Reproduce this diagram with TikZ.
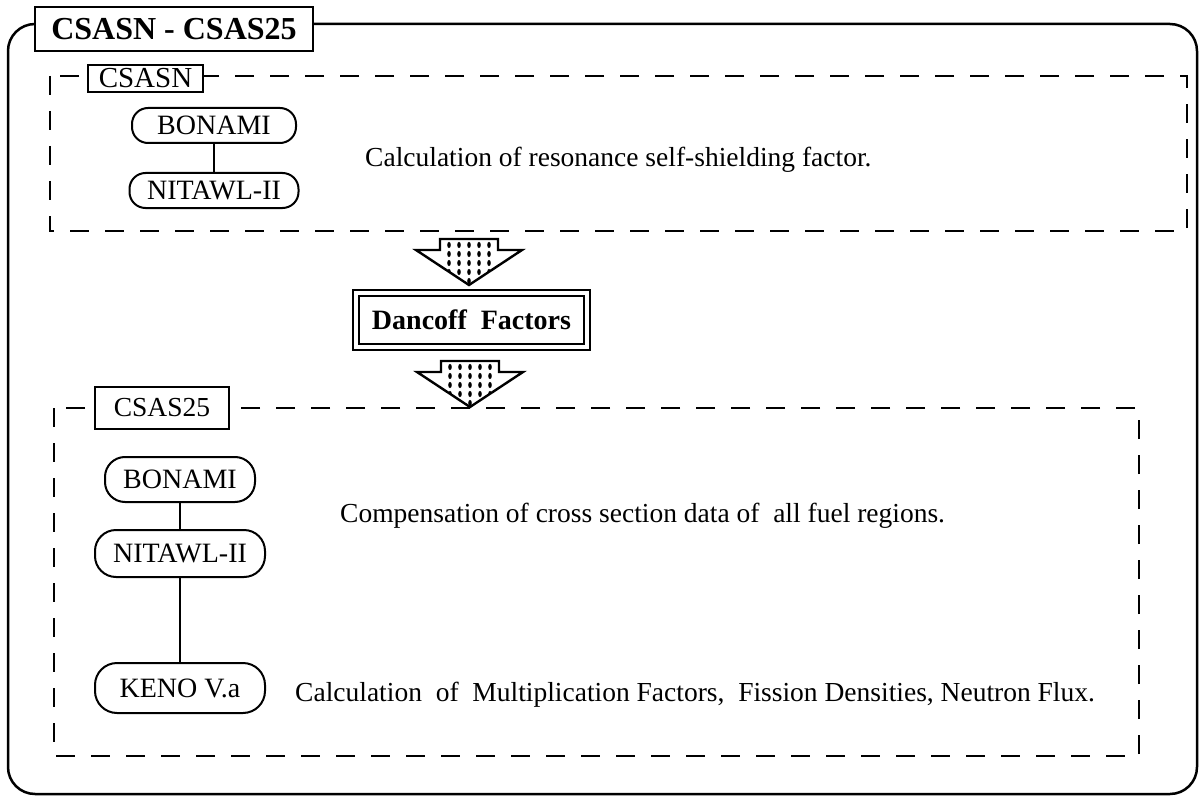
\documentclass[tikz,border=0pt]{standalone}
\usepackage{fontspec}
\setmainfont{Liberation Serif}
\begin{document}
\begin{tikzpicture}[x=1pt,y=-1pt,
  frame/.style={line width=2.5pt},
  group/.style={line width=2.6pt, dash pattern=on 19pt off 16pt},
  tag/.style={draw, fill=white, line width=1.8pt, inner sep=0pt, font=\fontsize{29}{31}\selectfont},
  prog/.style={draw, fill=white, line width=2pt, inner sep=0pt, font=\fontsize{28}{30}\selectfont},
  link/.style={line width=2pt},
  desc/.style={anchor=base west, inner sep=0pt, font=\fontsize{27.5}{30}\selectfont},
  blockdown/.pic={
    \begin{scope}
      \clip (-29,-46) -- (29,-46) -- (29,-35) -- (53,-35) -- (0,0) -- (-53,-35) -- (-29,-35) -- cycle;
      \foreach \i in {-2,...,2}
        \foreach \j in {0,...,4}
          \fill (\i*10, -40+\j*9) ellipse (1.8pt and 3.1pt);
    \end{scope}
    \draw[line width=2.4pt, line join=miter]
      (-29,-46) -- (29,-46) -- (29,-35) -- (53,-35) -- (0,0) -- (-53,-35) -- (-29,-35) -- cycle;
  }
]
\useasboundingbox (0,0) rectangle (1200,797);

% outer frame with its title
\draw[frame, rounded corners=27pt] (8,24) rectangle (1197,794);
\node[draw, fill=white, line width=2.5pt, minimum width=278pt, minimum height=44pt, inner sep=0pt,
      font=\bfseries\fontsize{32}{34}\selectfont] (title) at (174,29) {CSASN - CSAS25};

% CSASN group
\draw[group] (50,76) rectangle (1187,231);
\node[tag, minimum width=115pt, minimum height=27pt] (tagA) at (145.5,78.5) {CSASN};
\node[prog, rounded corners=16pt, minimum width=164pt, minimum height=35pt] (bonA) at (214,125.5) {BONAMI};
\node[prog, rounded corners=16pt, minimum width=169pt, minimum height=35pt] (nitA) at (214,190.5) {NITAWL-II};
\draw[link] (bonA) -- (nitA);
\node[desc] (descA) at (365,167) {Calculation of resonance self-shielding factor.};

% hand-over through the Dancoff factors
\pic (arrA) at (469,285) {blockdown};
\node[draw, double, double distance=3.5pt, line width=2pt, minimum width=231pt, minimum height=54pt,
      inner sep=0pt, font=\bfseries\fontsize{28}{30}\selectfont] (dancoff) at (471.5,320) {Dancoff\ \ Factors};
\pic (arrB) at (470,407) {blockdown};

% CSAS25 group
\draw[group] (54,408) rectangle (1139,756);
\node[tag, minimum width=134pt, minimum height=42pt, font=\fontsize{27.5}{30}\selectfont] (tagB) at (162,408) {CSAS25};
\node[prog, rounded corners=20pt, minimum width=150pt, minimum height=45pt] (bonB) at (180,479.5) {BONAMI};
\node[prog, rounded corners=21pt, minimum width=170pt, minimum height=47pt] (nitB) at (180,553.5) {NITAWL-II};
\node[prog, rounded corners=22pt, minimum width=170pt, minimum height=50pt] (keno) at (180,688) {KENO V.a};
\draw[link] (bonB) -- (nitB);
\draw[link] (nitB) -- (keno);
\node[desc] (descB) at (340,522) {Compensation of cross section data of\ \ all fuel regions.};
\node[desc] (descC) at (295,701) {Calculation\ \ of\ \ Multiplication Factors,\ \ Fission Densities, Neutron Flux.};
\end{tikzpicture}
\end{document}
